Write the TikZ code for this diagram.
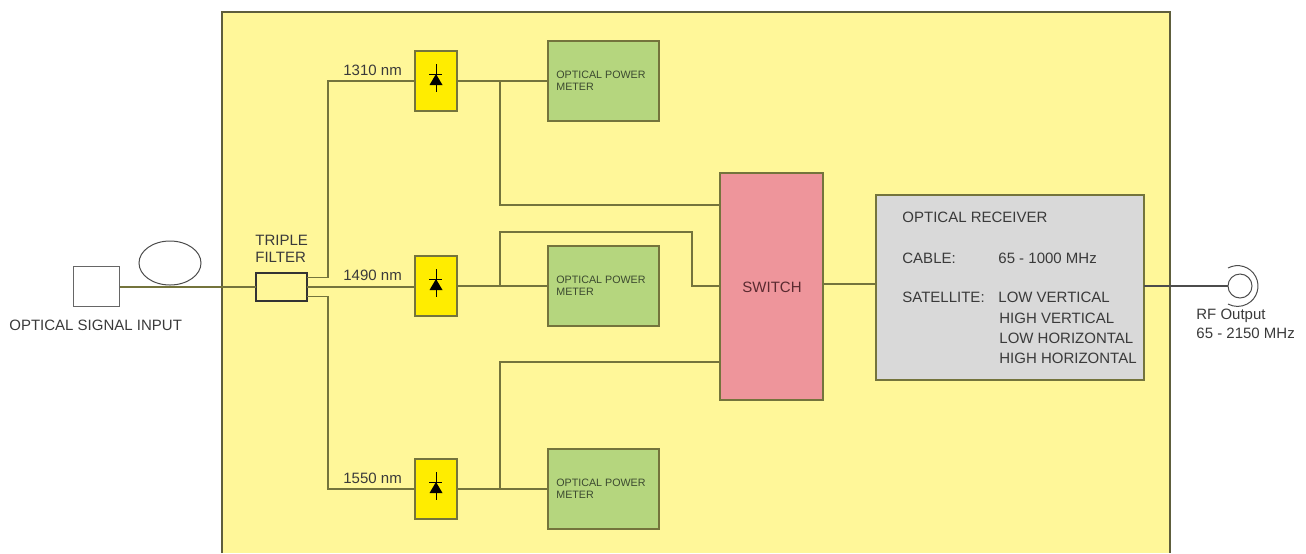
\documentclass[tikz,border=0pt]{standalone}
\usepackage{fontspec}
\setmainfont{Liberation Sans}
\usetikzlibrary{calc}
\definecolor{framecol}{HTML}{5E5E3C}
\definecolor{wirecol}{HTML}{74743C}
\definecolor{txtcol}{HTML}{3A3A3A}
\definecolor{metertxt}{HTML}{3C4A30}
\definecolor{switchtxt}{HTML}{5A2A30}
\definecolor{panelcol}{HTML}{FFF799}
\definecolor{detcol}{HTML}{FFED00}
\definecolor{metercol}{HTML}{B5D67E}
\definecolor{switchcol}{HTML}{EE959B}
\definecolor{rxcol}{HTML}{D9D9D9}
\tikzset{
  box/.style={draw=wirecol, line width=0.7pt, inner sep=0pt, outer sep=0pt},
  detbox/.style={box, fill=detcol, minimum width=21pt, minimum height=30pt},
  meterbox/.style={box, fill=metercol, minimum width=55.5pt, minimum height=40pt},
  wire/.style={draw=wirecol, line width=0.55pt},
  lbl/.style={anchor=west, inner sep=0pt, text=txtcol, font=\fontsize{7.5pt}{9pt}\selectfont},
  smalllbl/.style={lbl, text=metertxt, font=\fontsize{5.35pt}{6pt}\selectfont}
}
\begin{document}
\begin{tikzpicture}[x=0.5pt, y=-0.5pt]
  \useasboundingbox (0,0) rectangle (1306,553);
  % Panel
  \fill[panelcol] (222,12) rectangle (1170,553);
  \draw[framecol, line width=0.8pt] (222,553) -- (222,12) -- (1170,12) -- (1170,553);
  % Input side
  \node[draw=black!60, line width=0.5pt, inner sep=0pt, minimum width=23pt, minimum height=20pt] (source) at (96,286) {};
  \node[lbl] (sourcelbl) at (9,325) {OPTICAL SIGNAL INPUT};
  \draw[black!70, line width=0.5pt] (170,263) ellipse (31 and 22);
  \node[box, draw=black!80, line width=0.9pt, fill=panelcol, minimum width=25.5pt, minimum height=14pt] (filter) at (281.5,287) {};
  \node[lbl] (filterlbl) at (255,240) {TRIPLE};
  \node[lbl] at (255,257.5) {FILTER};
  % Detector rows
  \foreach \n/\y/\lam in {1/81/1310,2/286/1490,3/489/1550} {
    \node[detbox] (det\n) at (436,\y) {};
    \node[meterbox] (meter\n) at (603.5,\y) {};
    \node[smalllbl] (meterlbl\n) at (556,\y-6) {OPTICAL POWER};
    \node[smalllbl] at (556,\y+6) {METER};
    \node[lbl] (lam\n) at (343,\y-11) {\lam{} nm};
    \draw[black, line width=0.5pt] (436,\y-17) -- (436,\y+11);
    \draw[black, line width=0.5pt] (429,\y-7) -- (442,\y-7);
    \fill[black] (436,\y-7) -- (442.5,\y+4) -- (429.5,\y+4) -- cycle;
  }
  % Switch and receiver
  \node[box, fill=switchcol, minimum width=51.5pt, minimum height=113.5pt] (switch) at (771.5,286.5) {};
  \node[lbl, anchor=center, text=switchtxt] (switchlbl) at (772,287) {SWITCH};
  \node[box, fill=rxcol, minimum width=134pt, minimum height=92.5pt] (rx) at (1010,287.5) {};
  \node[lbl] (rxlbl) at (902,217) {OPTICAL RECEIVER};
  \node[lbl] (cablelbl) at (902,258) {CABLE:};
  \node[lbl] at (998,258) {65 - 1000 MHz};
  \node[lbl] (satlbl) at (902,297) {SATELLITE:};
  \node[lbl] at (998,297) {LOW VERTICAL};
  \node[lbl] at (999,318) {HIGH VERTICAL};
  \node[lbl] at (999,338) {LOW HORIZONTAL};
  \node[lbl] at (999,358) {HIGH HORIZONTAL};
  % RF output
  \node[circle, draw=black!70, line width=0.5pt, inner sep=0pt, minimum size=12pt] (rf) at (1240,286) {};
  \draw[black!70, line width=0.5pt] (1228,268) arc[start angle=-118, end angle=118, radius=20.4];
  \node[lbl] (rflbl) at (1196,316) {RF Output};
  \node[lbl] at (1196,333) {65 - 2150 MHz};
  % Wires
  \coordinate (ftop) at ($(filter.north east)!0.15!(filter.south east)$);
  \coordinate (fbot) at ($(filter.north east)!0.85!(filter.south east)$);
  \draw[wire] (source.east |- filter) -- (filter.west);
  \draw[wire] (ftop) -| (328,81) -- (det1.west);
  \draw[wire] (filter.east) -- (filter.east -| det2.west);
  \draw[wire] (fbot) -| (328,489) -- (det3.west);
  \draw[wire] (det1.east) -- (meter1.west);
  \draw[wire] (det2.east) -- (meter2.west);
  \draw[wire] (det3.east) -- (meter3.west);
  \draw[wire] (500,81) |- (switch.west |- 0,205);
  \draw[wire] (500,286) |- (692,232) |- (switch.west |- meter2);
  \draw[wire] (500,489) |- (switch.west |- 0,362);
  \draw[wire] (switch.east |- 0,284) -- (rx.west |- 0,284);
  \draw[wire, draw=black!70] (rx.east |- rf) -- (rf.west);
\end{tikzpicture}
\end{document}
